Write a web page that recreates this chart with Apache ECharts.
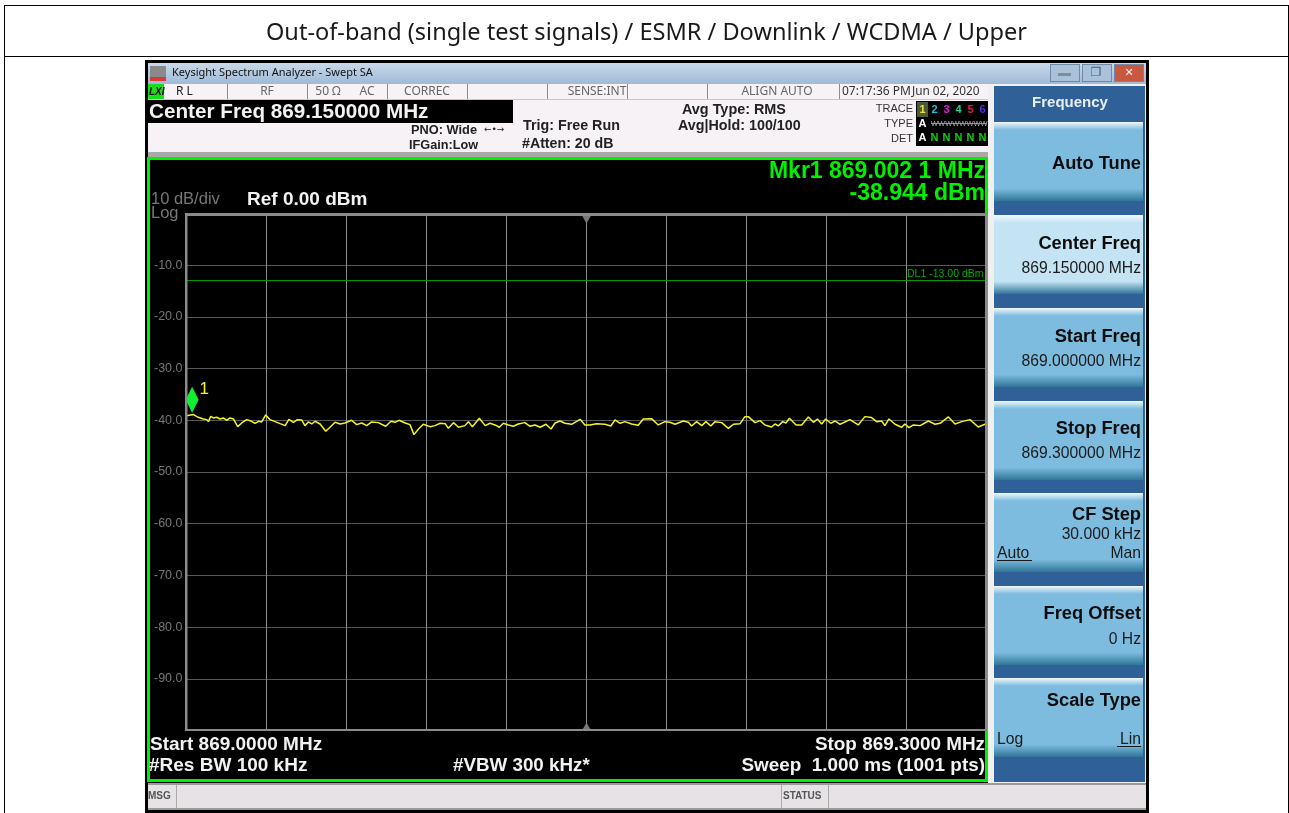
<!DOCTYPE html>
<html>
<head>
<meta charset="utf-8">
<style>html,body{margin:0;padding:0;background:#fff}#chart{width:1289px;height:813px}</style>
<script src="https://cdn.jsdelivr.net/npm/echarts@6/dist/echarts.min.js"></script>
</head>
<body>
<div id="chart"></div>
<script>
// offset from the 869.0000 MHz start, in kHz
var traceKHz = [0,2.6,4.4,6.3,7.6,8.2,9.1,10.1,11.3,12.6,13.8,15.1,16.3,17.6,19.2,20.7,22.6,24.4,25.7,27,28.2,29.7,31.3,33.2,35.1,37,38.4,40.1,41.6,43.2,44.4,45.7,47,48.2,50.1,52.2,53.8,55.7,57.6,59.4,61.9,63.8,65.7,67.6,69.4,71.9,74.7,76.7,78.2,79.7,82,83.8,85.3,87,88.8,91.3,93.2,95.1,97,
  98.2,100.1,102,104.4,105.7,107.2,109.8,112,113.8,115.7,117.3,118.8,120.7,122.6,124.4,126.9,128.8,130.7,132.6,134.8,136.7,138.2,140.1,141.9,144.4,147.6,149.4,151.3,153.8,156.9,159.1,160.7,162.6,164.4,166.9,169.4,171.3,174.4,176.9,179.4,181.3,183.2,186.3,188.2,189.4,191.3,193.2,194.8,196.6,198.2,
  200.7,203.2,205.1,207.6,209.4,210.7,213.2,215.1,216.9,219.4,220.7,221.9,223.6,224.8,226.1,228.6,230.7,233.2,235.1,236.6,238.2,239.7,241.6,243.2,245.1,248.8,251.9,254.4,256.9,258.8,260.7,261.9,263.4,265.7,268.2,269.4,270.9,272.6,275.1,278.2,280.7,282.6,285.7,288.2,290.7,293.8,296.9,299.4,300];
var traceDbm = [-39.1,-38.9,-39.42,-39.74,-39.87,-40.26,-39.23,-39.55,-39.42,-39.74,-39.55,-40,-39.55,-39.74,-41.23,-40.52,-39.87,-40.19,-40.58,-40.19,-40.32,-38.97,-39.87,-40.26,-40.65,-41.03,-39.81,-40.39,-39.87,-39.94,-41.03,-40.32,-40.71,-40.19,-40.71,-42.13,-41.35,-40.39,-40.71,-40.52,-40,-40.84,-40.52,-41.03,-40.32,-40.45,-41.16,-40.19,-40.39,-40,-40.52,-40.84,-42.77,-41.68,-40.77,-41.23,-41.03,-40.58,-40.65,
  -41.55,-40.45,-41.35,-41.03,-40.26,-41.23,-39.61,-41.03,-40.58,-40.9,-41.35,-40.58,-40.9,-41.16,-40.71,-40.45,-41.16,-40.9,-41.35,-40.77,-41.68,-40.52,-40.13,-40.58,-40.77,-39.81,-40.9,-40.9,-40.65,-40.77,-41.1,-39.94,-40.58,-40.26,-40.71,-40.97,-39.74,-39.68,-40.9,-40.26,-40.39,-40.77,-40.13,-40.39,-41.1,-40.26,-41.03,-40.26,-41.1,-40.26,
  -40.45,-41.55,-40.77,-40.65,-39.29,-39.29,-40.45,-40.06,-40.9,-41.29,-40.71,-41.1,-40.26,-40.52,-39.61,-40.9,-40.9,-39.35,-40.39,-39.74,-40.71,-39.74,-40.58,-40.13,-40.77,-39.87,-40.9,-39.29,-39.48,-40.26,-40.13,-41.03,-39.74,-40.77,-41.35,-40.71,-41.42,-40.9,-41.03,-40.13,-40.77,-40.58,-39.35,-40.71,-40.26,-39.87,-41.29,-40.77,-40.77];
var markerKHz = 2.1;
var markerDbm = -38.944;
var displayLine = -13;
var centerKHz = 150;
var yTicks = [-10,-20,-30,-40,-50,-60,-70,-80,-90];

var SANS = '"Liberation Sans", Arial, sans-serif';
var UI = '"Noto Sans", sans-serif';
var GREEN = '#00f000';
var WHITE = '#f2f2f2';
var g = [];

function rect(x, y, w, h, fill, z) {
  g.push({type: 'rect', z: z || 0, silent: true, shape: {x: x, y: y, width: w, height: h}, style: {fill: fill}});
}
function txt(x, y, s, font, fill, align) {
  g.push({type: 'text', z: 10, silent: true, style: {x: x, y: y + 0.8, text: s, font: font, fill: fill, align: align || 'left', verticalAlign: 'middle'}});
}
function vgrad(stops) {
  return {type: 'linear', x: 0, y: 0, x2: 0, y2: 1, colorStops: stops};
}

// table around the screenshot
rect(4, 5, 1285, 1, '#000');
rect(4, 56, 1285, 1, '#000');
rect(4, 5, 1, 808, '#000');
rect(1288, 5, 1, 808, '#000');
txt(646.5, 32, 'Out-of-band (single test signals) / ESMR / Downlink / WCDMA / Upper', '23.55px ' + UI, '#1a1a1a', 'center');

// analyzer window
rect(145, 60, 1004, 753, '#000');
rect(148, 63, 998, 21, vgrad([{offset: 0, color: '#c9d9ea'}, {offset: 1, color: '#9fbad6'}]));
rect(150, 66, 16, 15, '#8a8a8a');
rect(150, 77, 16, 4, '#d83a3a');
txt(172, 72, 'Keysight Spectrum Analyzer - Swept SA', '11px ' + UI, '#111');
[[1050, '#a9c1da'], [1082, '#a9c1da'], [1114, '#c8583f']].forEach(function (b) {
  rect(b[0], 64, 30, 18, '#6f8aa6');
  rect(b[0] + 1, 65, 28, 16, b[1]);
});
rect(1058, 73, 13, 3, '#7f8c99');
txt(1096, 72, '❐', '12px "DejaVu Sans"', '#556', 'center');
txt(1129, 72, '✕', 'bold 11px "DejaVu Sans"', '#f4f4f4', 'center');

// status strip
rect(148, 84, 842, 69, '#f6f2f6');
rect(148, 152, 842, 5, '#a8a8a8');
rect(148, 84, 16, 15, '#18e018');
txt(149, 91, 'LXI', 'italic bold 10px ' + SANS, '#000');
[227, 307, 387, 467, 547, 627, 707, 839].forEach(function (x) { rect(x, 84, 1, 15, '#8c8c8c'); });
rect(148, 99, 842, 1, '#c8c8c8');
txt(176, 91, 'R L', '12px ' + UI, '#222');
txt(267, 91, 'RF', '12px ' + UI, '#666', 'center');
txt(328, 91, '50 Ω', '12px ' + UI, '#666', 'center');
txt(367, 91, 'AC', '12px ' + UI, '#666', 'center');
txt(427, 91, 'CORREC', '12px ' + UI, '#666', 'center');
txt(597, 91, 'SENSE:INT', '12px ' + UI, '#666', 'center');
txt(777, 91, 'ALIGN AUTO', '12px ' + UI, '#666', 'center');
txt(842, 91, '07:17:36 PM', '12px ' + UI, '#333');
txt(912, 91, 'Jun 02, 2020', '11.8px ' + UI, '#333');
rect(148, 100, 365, 23, '#000');
txt(149, 111.5, 'Center Freq 869.150000 MHz', 'bold 20.7px ' + SANS, WHITE);
txt(411, 130, 'PNO: Wide', 'bold 12.8px ' + SANS, '#222');
txt(484, 129, '←•→', '9px "DejaVu Sans"', '#222');
txt(409, 145, 'IFGain:Low', 'bold 12.7px ' + SANS, '#222');
txt(523, 125, 'Trig: Free Run', 'bold 14.3px ' + SANS, '#222');
txt(522, 143, '#Atten: 20 dB', 'bold 14.2px ' + SANS, '#222');
txt(682, 109, 'Avg Type: RMS', 'bold 14.4px ' + SANS, '#222');
txt(678, 125, 'Avg|Hold: 100/100', 'bold 14.3px ' + SANS, '#222');
txt(913, 108, 'TRACE', '11px ' + SANS, '#333', 'right');
txt(913, 123, 'TYPE', '11px ' + SANS, '#333', 'right');
txt(913, 138, 'DET', '11px ' + SANS, '#333', 'right');
rect(916, 101, 74, 45, '#000');
rect(917, 102, 11, 15, '#4a5a3a');
[['1', '#f0e030'], ['2', '#20c0d0'], ['3', '#e020e0'], ['4', '#20d090'], ['5', '#e02040'], ['6', '#5030e0']].forEach(function (t, i) {
  txt(922.5 + i * 12, 109, t[0], 'bold 11px ' + SANS, t[1], 'center');
});
txt(922.5, 123, 'A', 'bold 11px ' + SANS, '#fff', 'center');
txt(931, 123, 'WWWWWWWW', '7.5px ' + SANS, '#aaa');
rect(931, 123, 56, 1, '#888');
txt(922.5, 137, 'A', 'bold 11px ' + SANS, '#fff', 'center');
[0, 1, 2, 3, 4].forEach(function (i) {
  txt(934.5 + i * 12, 137, 'N', 'bold 11px ' + SANS, '#10d010', 'center');
});

// green frame around the screen
rect(147, 157, 841, 625, GREEN);
rect(150, 160, 835, 619, '#000');
txt(985, 171, 'Mkr1 869.002 1 MHz', 'bold 23px ' + SANS, GREEN, 'right');
txt(985, 193, '-38.944 dBm', 'bold 23px ' + SANS, GREEN, 'right');
txt(151, 199, '10 dB/div', '16.5px ' + SANS, '#777');
txt(151, 213, 'Log', '16.5px ' + SANS, '#777');
txt(247, 199, 'Ref 0.00 dBm', 'bold 19px ' + SANS, WHITE);
txt(150, 744, 'Start 869.0000 MHz', 'bold 19px ' + SANS, WHITE);
txt(149, 765, '#Res BW 100 kHz', 'bold 19px ' + SANS, WHITE);
txt(453, 765, '#VBW 300 kHz*', 'bold 18.8px ' + SANS, WHITE);
txt(985, 744, 'Stop 869.3000 MHz', 'bold 18.9px ' + SANS, WHITE, 'right');
txt(985, 765, 'Sweep  1.000 ms (1001 pts)', 'bold 18.9px ' + SANS, WHITE, 'right');

// soft keys
rect(988, 84, 158, 699, '#f0f0f0');
rect(994, 86, 151, 696, '#2f6198');
txt(1070, 102, 'Frequency', 'bold 15px ' + SANS, '#e8eef5', 'center');
function softKey(y, active) {
  var body = active ? '#c4e4f4' : '#7dbcdf';
  rect(994, y, 149, 79, vgrad([
    {offset: 0, color: '#f2f8fc'}, {offset: 0.1, color: body}, {offset: 0.84, color: body}, {offset: 1, color: '#2f7698'}
  ]));
}
[122, 215, 308, 401, 493, 586, 678].forEach(function (y, i) { softKey(y, i === 1); });
var KEY = 'bold 18.3px ' + SANS, SUB = '15.7px ' + SANS;
txt(1141, 163, 'Auto Tune', KEY, '#0d0d0d', 'right');
txt(1141, 243, 'Center Freq', KEY, '#0d0d0d', 'right');
txt(1141, 268, '869.150000 MHz', SUB, '#1a1a1a', 'right');
txt(1141, 336, 'Start Freq', KEY, '#0d0d0d', 'right');
txt(1141, 361, '869.000000 MHz', SUB, '#1a1a1a', 'right');
txt(1141, 428, 'Stop Freq', KEY, '#0d0d0d', 'right');
txt(1141, 453, '869.300000 MHz', SUB, '#1a1a1a', 'right');
txt(1141, 514, 'CF Step', KEY, '#0d0d0d', 'right');
txt(1141, 534, '30.000 kHz', SUB, '#1a1a1a', 'right');
txt(997, 553, 'Auto', SUB, '#1a1a1a');
rect(997, 560, 35, 1, '#1a1a1a');
txt(1141, 553, 'Man', SUB, '#1a1a1a', 'right');
txt(1141, 613, 'Freq Offset', KEY, '#0d0d0d', 'right');
txt(1141, 639, '0 Hz', SUB, '#1a1a1a', 'right');
txt(1141, 700, 'Scale Type', KEY, '#0d0d0d', 'right');
txt(997, 739, 'Log', SUB, '#1a1a1a');
txt(1141, 739, 'Lin', SUB, '#1a1a1a', 'right');
rect(1117, 746, 24, 1, '#1a1a1a');

// message bar
rect(148, 783, 998, 27, '#e6e2e6');
rect(148, 783, 998, 2, '#9a9a9a');
rect(148, 808, 998, 2, '#9a9a9a');
rect(176, 785, 1, 23, '#aaa');
rect(781, 785, 1, 23, '#aaa');
rect(828, 785, 1, 23, '#aaa');
txt(148, 795, 'MSG', 'bold 10px ' + SANS, '#555');
txt(783, 795, 'STATUS', 'bold 10px ' + SANS, '#555');

var pairs = traceKHz.map(function (k, i) { return [k, traceDbm[i]]; });
var edgeGray = '#8a8a8a';

// thick edges of the graticule
[[185, 213, 2.5, 518], [985, 213, 1.5, 518], [185, 213, 801.5, 3], [185, 729, 801.5, 2]].forEach(function (r) {
  g.push({type: 'rect', z: 12, silent: true, shape: {x: r[0], y: r[1], width: r[2], height: r[3]}, style: {fill: edgeGray}});
});

var option = {
  animation: false,
  graphic: {elements: g},
  grid: {left: 186.5, top: 213.5, width: 800, height: 517, show: false},
  xAxis: {
    type: 'value', min: 0, max: 300, interval: 30,
    axisLabel: {show: false}, axisTick: {show: false},
    axisLine: {show: false},
    splitLine: {show: true, lineStyle: {color: edgeGray, width: 1}}
  },
  yAxis: {
    type: 'value', min: -100, max: 0, interval: 10,
    axisTick: {show: false}, axisLine: {show: false},
    splitLine: {show: true, lineStyle: {color: '#565656', width: 1}},
    axisLabel: {
      color: '#777', fontFamily: 'Liberation Sans', fontSize: 12.5, margin: 4,
      formatter: function (v) { return yTicks.indexOf(v) >= 0 ? v.toFixed(1) : ''; }
    }
  },
  series: [
    {
      name: 'Display line', type: 'line', symbol: 'none', silent: true, z: 3, data: [],
      markLine: {
        silent: true, symbol: 'none', animation: false,
        lineStyle: {color: '#009a00', width: 1, type: 'solid'},
        label: {
          formatter: 'DL1 -13.00 dBm', position: 'insideEndTop', color: '#00b000',
          fontFamily: 'Liberation Sans', fontSize: 10.5, distance: 1, offset: [-2, 0]
        },
        data: [{yAxis: displayLine}]
      }
    },
    {
      name: 'Trace 1', type: 'line', data: pairs, symbol: 'none', z: 4,
      lineStyle: {color: '#f4f420', width: 1.5}
    },
    {
      name: 'Marker 1', type: 'scatter', z: 5, data: [[markerKHz, markerDbm]],
      symbol: 'diamond', symbolSize: [13, 26], symbolOffset: [0, -15],
      itemStyle: {color: '#10f030', opacity: 1},
      label: {
        show: true, formatter: '1', position: 'right', distance: 1, offset: [0, -11],
        color: '#f4f420', fontFamily: 'Liberation Sans', fontSize: 17
      }
    },
    {
      name: 'Top tick', type: 'scatter', z: 3, data: [[centerKHz, 0]],
      symbol: 'triangle', symbolRotate: 180, symbolSize: [9, 8], symbolOffset: [0, 6],
      itemStyle: {color: '#777', opacity: 1}, clip: false
    },
    {
      name: 'Bottom tick', type: 'scatter', z: 3, data: [[centerKHz, -100]],
      symbol: 'triangle', symbolSize: [9, 8], symbolOffset: [0, -4],
      itemStyle: {color: '#777', opacity: 1}, clip: false
    }
  ]
};

var myChart = echarts.init(document.getElementById('chart'), null, {renderer: 'canvas'});
myChart.setOption(option);
</script>
</body>
</html>
